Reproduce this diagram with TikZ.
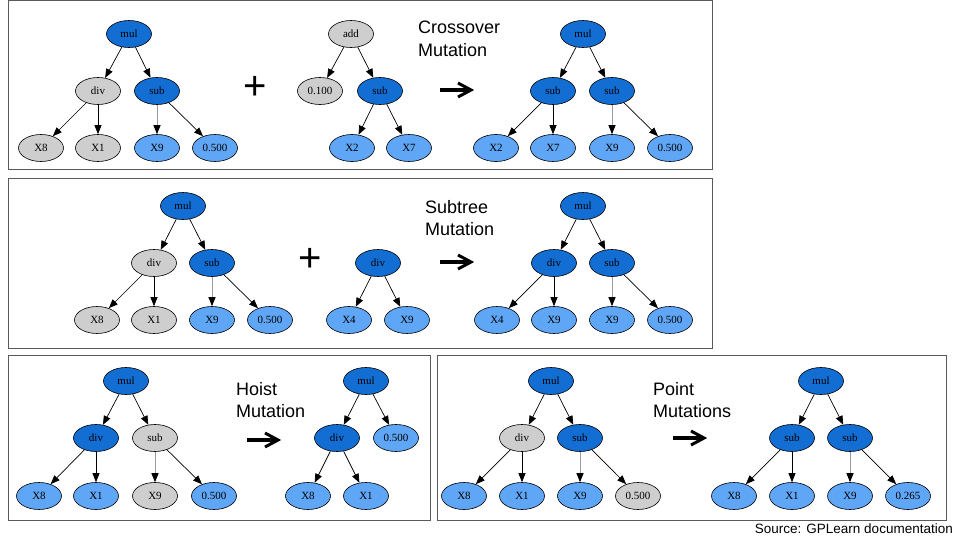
\documentclass[tikz,border=0pt]{standalone}
\usepackage{fontspec}
\setmainfont{Liberation Serif}
\newfontfamily\sansf{Liberation Sans}
\usetikzlibrary{shapes.geometric,arrows.meta}
\definecolor{fnc}{HTML}{136ED4}
\definecolor{tmc}{HTML}{60A6F6}
\definecolor{fdc}{HTML}{CECECE}
\definecolor{boxc}{HTML}{595959}
\definecolor{edgegray}{HTML}{9A9A9A}
\tikzset{
  nd/.style={ellipse, draw=black, line width=0.6pt, minimum width=45pt, minimum height=27pt, inner sep=0pt, font=\fontsize{11}{13}\selectfont},
  fn/.style={nd, fill=fnc},
  tm/.style={nd, fill=tmc},
  fd/.style={nd, fill=fdc},
  ed/.style={draw=black, line width=0.7pt, -{Triangle[length=9pt,width=7pt]}},
  ge/.style={draw=edgegray, line width=1pt, -{Triangle[length=9pt,width=7pt,color=black]}},
  panel/.style={draw=boxc, line width=1pt},
  ttl/.style={font=\sansf\fontsize{18}{22.5}\selectfont, align=left, anchor=west, inner sep=0pt},
  plussign/.style={font=\sansf\fontsize{40}{40}\selectfont, inner sep=0pt},
  bigarrow/.style={line width=3.4pt},
  bighead/.style={line width=3pt, line join=miter, line cap=butt},
}
\begin{document}
\begin{tikzpicture}[x=1pt,y=-1pt]
\useasboundingbox (0,0) rectangle (960,540);
\fill[white] (0,0) rectangle (960,540);
% panels
\draw[panel] (8,1) rectangle (712,170);
\draw[panel] (8,179) rectangle (712,348);
\draw[panel] (8,355) rectangle (430,520);
\draw[panel] (437,355) rectangle (946,520);

% ---------- Panel 1: Crossover ----------
\node[fn] (p1m) at (129,34) {mul};
\node[fd] (p1d) at (98,91) {div};
\node[fn] (p1s) at (157,91) {sub};
\node[fd] (p1x8) at (41,148) {X8};
\node[fd] (p1x1) at (98,148) {X1};
\node[tm] (p1x9) at (157,148) {X9};
\node[tm] (p1c) at (215,148) {0.500};
\draw[ed] (p1m) -- (p1d);
\draw[ed] (p1m) -- (p1s);
\draw[ed] (p1d) -- (p1x8);
\draw[ed] (p1d) -- (p1x1);
\draw[ge] (p1s) -- (p1x9);
\draw[ed] (p1s) -- (p1c);
\node[plussign] (plus1) at (255,88) {+};
\node[fd] (q1a) at (351,34) {add};
\node[fd] (q1c) at (320,91) {0.100};
\node[fn] (q1s) at (380,91) {sub};
\node[tm] (q1x2) at (352,148) {X2};
\node[tm] (q1x7) at (409,148) {X7};
\draw[ed] (q1a) -- (q1c);
\draw[ed] (q1a) -- (q1s);
\draw[ed] (q1s) -- (q1x2);
\draw[ed] (q1s) -- (q1x7);
\node[ttl] (t1) at (418,39) {Crossover\\Mutation};
\draw[bigarrow] (440,90) -- (469,90);
\draw[bighead] (458,83) -- (471,90) -- (458,97);
\node[fn] (r1m) at (583,34) {mul};
\node[fn] (r1s1) at (553,91) {sub};
\node[fn] (r1s2) at (612,91) {sub};
\node[tm] (r1x2) at (496,148) {X2};
\node[tm] (r1x7) at (553,148) {X7};
\node[tm] (r1x9) at (612,148) {X9};
\node[tm] (r1c) at (670,148) {0.500};
\draw[ed] (r1m) -- (r1s1);
\draw[ed] (r1m) -- (r1s2);
\draw[ed] (r1s1) -- (r1x2);
\draw[ed] (r1s1) -- (r1x7);
\draw[ge] (r1s2) -- (r1x9);
\draw[ed] (r1s2) -- (r1c);

% ---------- Panel 2: Subtree ----------
\node[fn] (p2m) at (183,206) {mul};
\node[fd] (p2d) at (154,263) {div};
\node[fn] (p2s) at (212,263) {sub};
\node[fd] (p2x8) at (97,320) {X8};
\node[fd] (p2x1) at (154,320) {X1};
\node[tm] (p2x9) at (212,320) {X9};
\node[tm] (p2c) at (270,320) {0.500};
\draw[ed] (p2m) -- (p2d);
\draw[ed] (p2m) -- (p2s);
\draw[ed] (p2d) -- (p2x8);
\draw[ed] (p2d) -- (p2x1);
\draw[ge] (p2s) -- (p2x9);
\draw[ed] (p2s) -- (p2c);
\node[plussign] (plus2) at (310,260) {+};
\node[fn] (q2d) at (378,263) {div};
\node[tm] (q2x4) at (349,320) {X4};
\node[tm] (q2x9) at (407,320) {X9};
\draw[ed] (q2d) -- (q2x4);
\draw[ed] (q2d) -- (q2x9);
\node[ttl] (t2) at (425,218) {Subtree\\Mutation};
\draw[bigarrow] (440,262) -- (469,262);
\draw[bighead] (458,255) -- (471,262) -- (458,269);
\node[fn] (r2m) at (583,206) {mul};
\node[fn] (r2d) at (554,263) {div};
\node[fn] (r2s) at (612,263) {sub};
\node[tm] (r2x4) at (497,320) {X4};
\node[tm] (r2x9a) at (554,320) {X9};
\node[tm] (r2x9b) at (612,320) {X9};
\node[tm] (r2c) at (670,320) {0.500};
\draw[ed] (r2m) -- (r2d);
\draw[ed] (r2m) -- (r2s);
\draw[ed] (r2d) -- (r2x4);
\draw[ed] (r2d) -- (r2x9a);
\draw[ge] (r2s) -- (r2x9b);
\draw[ed] (r2s) -- (r2c);

% ---------- Panel 3: Hoist ----------
\node[fn] (p3m) at (126,381) {mul};
\node[fn] (p3d) at (96,438) {div};
\node[fd] (p3s) at (155,438) {sub};
\node[tm] (p3x8) at (39,496) {X8};
\node[tm] (p3x1) at (96,496) {X1};
\node[fd] (p3x9) at (155,496) {X9};
\node[tm] (p3c) at (214,496) {0.500};
\draw[ed] (p3m) -- (p3d);
\draw[ed] (p3m) -- (p3s);
\draw[ed] (p3d) -- (p3x8);
\draw[ed] (p3d) -- (p3x1);
\draw[ge] (p3s) -- (p3x9);
\draw[ed] (p3s) -- (p3c);
\node[ttl] (t3) at (236,400) {Hoist\\Mutation};
\draw[bigarrow] (247,440) -- (276,440);
\draw[bighead] (265,433) -- (278,440) -- (265,447);
\node[fn] (r3m) at (366,381) {mul};
\node[fn] (r3d) at (337,438) {div};
\node[tm] (r3c) at (396,438) {0.500};
\node[tm] (r3x8) at (308,496) {X8};
\node[tm] (r3x1) at (366,496) {X1};
\draw[ed] (r3m) -- (r3d);
\draw[ed] (r3m) -- (r3c);
\draw[ed] (r3d) -- (r3x8);
\draw[ed] (r3d) -- (r3x1);

% ---------- Panel 4: Point ----------
\node[fn] (p4m) at (551,381) {mul};
\node[fd] (p4d) at (522,438) {div};
\node[fn] (p4s) at (580,438) {sub};
\node[tm] (p4x8) at (464,496) {X8};
\node[tm] (p4x1) at (522,496) {X1};
\node[tm] (p4x9) at (580,496) {X9};
\node[fd] (p4c) at (638,496) {0.500};
\draw[ed] (p4m) -- (p4d);
\draw[ed] (p4m) -- (p4s);
\draw[ed] (p4d) -- (p4x8);
\draw[ed] (p4d) -- (p4x1);
\draw[ge] (p4s) -- (p4x9);
\draw[ed] (p4s) -- (p4c);
\node[ttl] (t4) at (653,400) {Point\\Mutations};
\draw[bigarrow] (673,438) -- (702,438);
\draw[bighead] (691,431) -- (704,438) -- (691,445);
\node[fn] (r4m) at (821,381) {mul};
\node[fn] (r4s1) at (792,438) {sub};
\node[fn] (r4s2) at (850,438) {sub};
\node[tm] (r4x8) at (734,496) {X8};
\node[tm] (r4x1) at (792,496) {X1};
\node[tm] (r4x9) at (850,496) {X9};
\node[tm] (r4c) at (908,496) {0.265};
\draw[ed] (r4m) -- (r4s1);
\draw[ed] (r4m) -- (r4s2);
\draw[ed] (r4s1) -- (r4x8);
\draw[ed] (r4s1) -- (r4x1);
\draw[ge] (r4s2) -- (r4x9);
\draw[ed] (r4s2) -- (r4c);

\node[anchor=east, inner sep=0pt, font=\sansf\fontsize{13.5}{15}\selectfont] (src) at (953,529) {Source: GPLearn documentation};
\end{tikzpicture}
\end{document}
